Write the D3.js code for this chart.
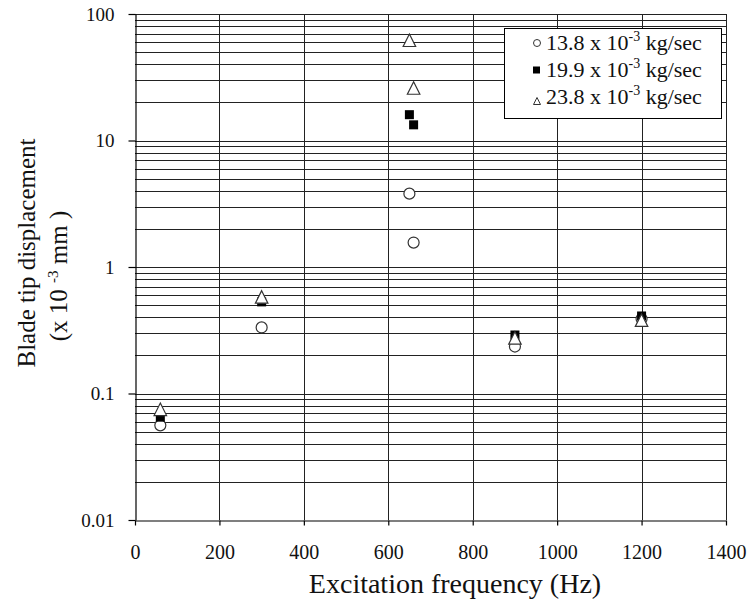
<!DOCTYPE html>
<html>
<head>
<meta charset="utf-8">
<script src="https://cdn.jsdelivr.net/npm/d3@7"></script>
<style>
  html, body { margin: 0; padding: 0; background: #fff; }
  svg { display: block; font-family: "Liberation Serif", "Times New Roman", serif; }
</style>
</head>
<body>
<svg id="chart" width="750" height="605"></svg>
<script>
// Excitation frequencies (Hz) at which tip displacement was measured
const freq = [60, 300, 650, 660, 900, 1200];

// Blade tip displacement (x 10^-3 mm) for each coolant mass flow rate
const flow138 = [0.056, 0.333, 3.8, 1.56, 0.235, 0.39];
const flow199 = [0.065, 0.53, 16, 13.3, 0.29, 0.41];
const flow238 = [0.075, 0.58, 62, 26, 0.275, 0.38];

const seriesNames = ["13.8", "19.9", "23.8"];
const xTicks = [0, 200, 400, 600, 800, 1000, 1200, 1400];
const yTicks = [0.01, 0.1, 1, 10, 100];

const svg = d3.select("#chart");
const plotL = 135, plotR = 726, plotT = 14, plotB = 520;

const x = d3.scaleLinear().domain([0, 1400]).range([plotL, plotR]);
const y = d3.scaleLog().domain([0.01, 100]).range([plotB, plotT]);

// minor gridlines: every 1..9 within each decade
const minor = [];
for (let e = -2; e <= 1; e++) for (let k = 1; k <= 9; k++) minor.push(k * Math.pow(10, e));
minor.push(100);

const grid = svg.append("g").attr("stroke-width", 1).attr("shape-rendering", "crispEdges");
grid.selectAll("line.h").data(minor.filter(v => v > 0.01)).join("line")
  .attr("x1", plotL).attr("x2", plotR)
  .attr("y1", d => Math.round(y(d)) + 0.5).attr("y2", d => Math.round(y(d)) + 0.5)
  .attr("stroke", "#222");
grid.selectAll("line.v").data(xTicks.filter(v => v > 0)).join("line")
  .attr("x1", d => Math.round(x(d)) + 0.5).attr("x2", d => Math.round(x(d)) + 0.5)
  .attr("y1", plotT).attr("y2", plotB)
  .attr("stroke", "#222");

// axes
const xAxis = d3.axisBottom(x).tickValues(xTicks).tickSize(5).tickSizeOuter(0).tickPadding(19)
  .tickFormat(d3.format("d"));
const yAxis = d3.axisLeft(y).tickValues(yTicks).tickSize(7).tickSizeOuter(0).tickPadding(14)
  .tickFormat(d => d3.format("~g")(d));

const gx = svg.append("g").attr("transform", `translate(0,${plotB + 0.5})`).call(xAxis);
const gy = svg.append("g").attr("transform", `translate(${plotL + 0.5},0)`).call(yAxis);
[gx, gy].forEach(g => {
  g.select(".domain").attr("stroke", "#000").attr("stroke-width", 1.2);
  g.selectAll(".tick line").attr("stroke", "#000").attr("stroke-width", 1.2);
  g.selectAll(".tick text").attr("font-family", "Liberation Serif").attr("fill", "#111");
});
gx.selectAll(".tick text").attr("font-size", 20);
gy.selectAll(".tick text").attr("font-size", 19);

// markers
const tri = s => `M0,${-s / 2}L${s / 2},${s / 2}L${-s / 2},${s / 2}Z`;
const pts = svg.append("g");

pts.selectAll("circle").data(freq.map((f, i) => [f, flow138[i]])).join("circle")
  .attr("cx", d => x(d[0])).attr("cy", d => y(d[1])).attr("r", 5.5)
  .attr("fill", "#fff").attr("stroke", "#333").attr("stroke-width", 1.2);

pts.selectAll("rect").data(freq.map((f, i) => [f, flow199[i]])).join("rect")
  .attr("x", d => x(d[0]) - 4.5).attr("y", d => y(d[1]) - 4.5)
  .attr("width", 9).attr("height", 9).attr("fill", "#000");

pts.selectAll("path").data(freq.map((f, i) => [f, flow238[i]])).join("path")
  .attr("transform", d => `translate(${x(d[0])},${y(d[1])})`)
  .attr("d", tri(12.5))
  .attr("fill", "#fff").attr("stroke", "#333").attr("stroke-width", 1.2);

// legend
const lg = svg.append("g");
lg.append("rect").attr("x", 504.5).attr("y", 28.5).attr("width", 217).attr("height", 90)
  .attr("fill", "#fff").attr("stroke", "#000").attr("stroke-width", 1);

const rowBase = [50, 77, 104];
seriesNames.forEach((name, i) => {
  const cy = rowBase[i] - 7;
  if (i === 0) lg.append("circle").attr("cx", 537).attr("cy", cy).attr("r", 3.5)
    .attr("fill", "#fff").attr("stroke", "#333").attr("stroke-width", 1);
  if (i === 1) lg.append("rect").attr("x", 533).attr("y", cy - 3.5).attr("width", 7).attr("height", 7).attr("fill", "#000");
  if (i === 2) lg.append("path").attr("transform", `translate(537,${cy + 4})`).attr("d", tri(7))
    .attr("fill", "#fff").attr("stroke", "#333").attr("stroke-width", 1);
  const t = lg.append("text").attr("x", 546).attr("y", rowBase[i])
    .attr("font-size", 22).attr("fill", "#111");
  t.append("tspan").text(`${name} x 10`);
  t.append("tspan").attr("dy", -9).attr("font-size", 14).text("-3");
  t.append("tspan").attr("dy", 9).text(" kg/sec");
});

// axis titles
svg.append("text").attr("x", 455).attr("y", 593).attr("text-anchor", "middle")
  .attr("font-size", 28).attr("fill", "#111").text("Excitation frequency (Hz)");

svg.append("text").attr("transform", "translate(35,253) rotate(-90)").attr("text-anchor", "middle")
  .attr("font-size", 25).attr("fill", "#111").text("Blade tip displacement");

const yl2 = svg.append("text").attr("transform", "translate(67,276) rotate(-90)").attr("text-anchor", "middle")
  .attr("font-size", 25).attr("fill", "#111");
yl2.append("tspan").text("(x 10 ");
yl2.append("tspan").attr("dy", -9).attr("font-size", 15).text("-3");
yl2.append("tspan").attr("dy", 9).text(" mm )");
</script>
</body>
</html>
